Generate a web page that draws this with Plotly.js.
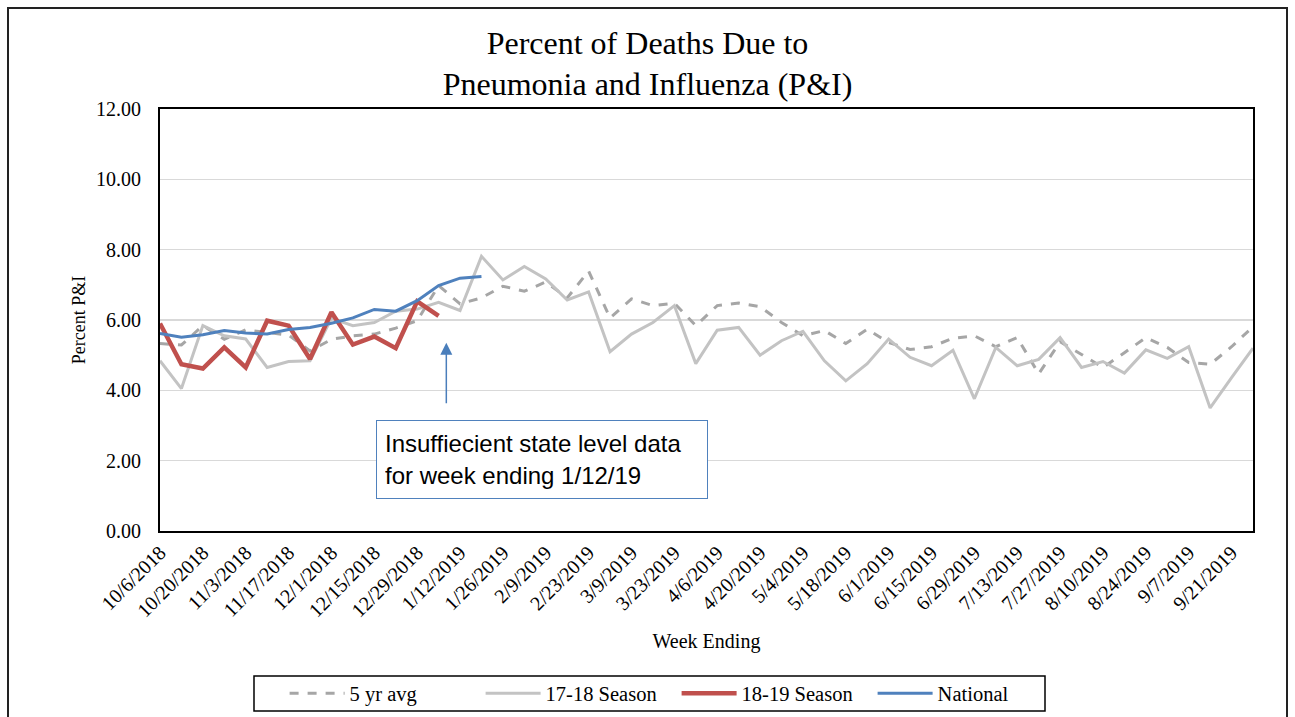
<!DOCTYPE html>
<html>
<head>
<meta charset="utf-8">
<script src="https://cdn.plot.ly/plotly-3.0.1.min.js"></script>
<style>
  html, body { margin: 0; padding: 0; background: #fff; }
  #wrap { position: relative; width: 1295px; height: 717px; overflow: hidden; }
  #chart { width: 1295px; height: 717px; }
  #frame { position: absolute; left: 7px; top: 7px; width: 1277px; height: 740px; border: 2px solid #222; pointer-events: none; }
</style>
</head>
<body>
<div id="wrap">
  <div id="chart"></div>
  <div id="frame"></div>
</div>
<script>
const weeks = ["10/6/2018","10/13/2018","10/20/2018","10/27/2018","11/3/2018","11/10/2018","11/17/2018","11/24/2018",
  "12/1/2018","12/8/2018","12/15/2018","12/22/2018","12/29/2018","1/5/2019","1/12/2019","1/19/2019","1/26/2019",
  "2/2/2019","2/9/2019","2/16/2019","2/23/2019","3/2/2019","3/9/2019","3/16/2019","3/23/2019","3/30/2019",
  "4/6/2019","4/13/2019","4/20/2019","4/27/2019","5/4/2019","5/11/2019","5/18/2019","5/25/2019","6/1/2019",
  "6/8/2019","6/15/2019","6/22/2019","6/29/2019","7/6/2019","7/13/2019","7/20/2019","7/27/2019","8/3/2019",
  "8/10/2019","8/17/2019","8/24/2019","8/31/2019","9/7/2019","9/14/2019","9/21/2019","9/28/2019"];

const tickLabels = ["10/6/2018","10/20/2018","11/3/2018","11/17/2018","12/1/2018","12/15/2018","12/29/2018",
  "1/12/2019","1/26/2019","2/9/2019","2/23/2019","3/9/2019","3/23/2019","4/6/2019","4/20/2019","5/4/2019",
  "5/18/2019","6/1/2019","6/15/2019","6/29/2019","7/13/2019","7/27/2019","8/10/2019","8/24/2019","9/7/2019","9/21/2019"];

const fiveYrAvg = [5.33,5.29,5.84,5.45,5.72,5.65,5.57,5.12,5.45,5.55,5.6,5.77,5.98,6.98,6.46,6.63,6.96,6.82,7.08,6.63,
  7.39,6.06,6.6,6.41,6.48,5.84,6.41,6.48,6.38,5.93,5.55,5.7,5.33,5.74,5.36,5.16,5.24,5.48,5.55,5.24,
  5.5,4.47,5.38,5.02,4.65,5.07,5.5,5.22,4.79,4.74,5.24,5.81];

const season1718 = [4.84,4.05,5.84,5.55,5.46,4.65,4.82,4.84,6.05,5.84,5.93,6.25,6.31,6.5,6.27,7.81,7.14,7.52,7.17,6.57,
  6.8,5.1,5.6,5.93,6.41,4.76,5.71,5.79,5.0,5.41,5.68,4.84,4.27,4.76,5.46,4.94,4.7,5.14,3.76,5.22,
  4.7,4.88,5.5,4.65,4.82,4.49,5.15,4.91,5.24,3.5,4.36,5.2];

const season1819 = [5.9,4.74,4.62,5.22,4.65,5.98,5.84,4.89,6.22,5.3,5.53,5.2,6.53,6.12];

const national = [5.62,5.51,5.58,5.7,5.63,5.6,5.73,5.79,5.91,6.06,6.3,6.25,6.55,6.98,7.19,7.24];

const serif = "Liberation Serif, Times New Roman, serif";

const traces = [
  { name: "5 yr avg", x: weeks, y: fiveYrAvg, type: "scatter", mode: "lines",
    line: { color: "#a6a6a6", width: 3, dash: "dash" } },
  { name: "17-18 Season", x: weeks, y: season1718, type: "scatter", mode: "lines",
    line: { color: "#c3c3c3", width: 3 } },
  { name: "18-19 Season", x: weeks.slice(0, season1819.length), y: season1819, type: "scatter", mode: "lines",
    line: { color: "#c0504d", width: 4.5 } },
  { name: "National", x: weeks.slice(0, national.length), y: national, type: "scatter", mode: "lines",
    line: { color: "#4f81bd", width: 3 } }
];

const layout = {
  width: 1295, height: 717,
  margin: { l: 160, r: 42, t: 109, b: 186, autoexpand: false },
  paper_bgcolor: "#ffffff", plot_bgcolor: "#ffffff",
  font: { family: serif, color: "#000", size: 18 },
  title: {
    text: "Percent of Deaths Due to<br>Pneumonia and Influenza (P&I)",
    font: { family: serif, size: 32, color: "#000" },
    x: 0.5, xref: "container", y: 0.925, yref: "container", yanchor: "middle"
  },
  xaxis: {
    type: "category", range: [0, weeks.length - 1],
    tickmode: "array", tickvals: tickLabels, ticktext: tickLabels,
    tickangle: -45, tickfont: { family: serif, size: 20, color: "#000" },
    showgrid: false, zeroline: false,
    showline: true, linecolor: "#000", linewidth: 2, mirror: true,
    ticks: "", automargin: false,
    title: { text: "Week Ending", font: { family: serif, size: 20, color: "#000" }, standoff: 14 }
  },
  yaxis: {
    range: [0, 12], tickmode: "linear", tick0: 0, dtick: 2, tickformat: ".2f",
    tickfont: { family: serif, size: 20, color: "#000" },
    showgrid: true, gridcolor: "#d9d9d9", gridwidth: 1.5, zeroline: false,
    showline: true, linecolor: "#000", linewidth: 2, mirror: true,
    ticks: "", ticklabelstandoff: 13, automargin: false,
    title: { text: "Percent P&I", font: { family: serif, size: 18, color: "#000" }, standoff: 6 }
  },
  showlegend: true,
  legend: {
    orientation: "h", x: 0.114, xanchor: "left", y: -0.385, yanchor: "middle",
    borderwidth: 0, bgcolor: "rgba(0,0,0,0)",
    font: { family: serif, size: 20.5, color: "#000" },
    entrywidth: 126, itemwidth: 55
  },
  shapes: [
    { type: "rect", xref: "paper", yref: "paper", x0: 0.086, x1: 0.8097, y0: -0.4265, y1: -0.3436,
      line: { color: "#000", width: 1.5 }, fillcolor: "rgba(0,0,0,0)", layer: "below" }
  ],
  annotations: [
    { xref: "paper", yref: "paper", x: 0.3495, y: 0.1694, xanchor: "center", yanchor: "middle",
      text: "Insuffiecient state level data<br>for week ending 1/12/19", showarrow: false,
      align: "left", width: 314, height: 61, borderpad: 8,
      bordercolor: "#4f81bd", borderwidth: 1, bgcolor: "#fff",
      font: { family: "Liberation Sans, Arial, sans-serif", size: 24, color: "#000" } },
    { xref: "x", yref: "y", x: 13.36, y: 5.35, text: "", showarrow: true,
      ax: 0, ay: 62, arrowhead: 2, arrowsize: 1.6, arrowwidth: 1.5, arrowcolor: "#4a7ebb" }
  ]
};

Plotly.newPlot("chart", traces, layout, { displayModeBar: false, staticPlot: true });
</script>
</body>
</html>
